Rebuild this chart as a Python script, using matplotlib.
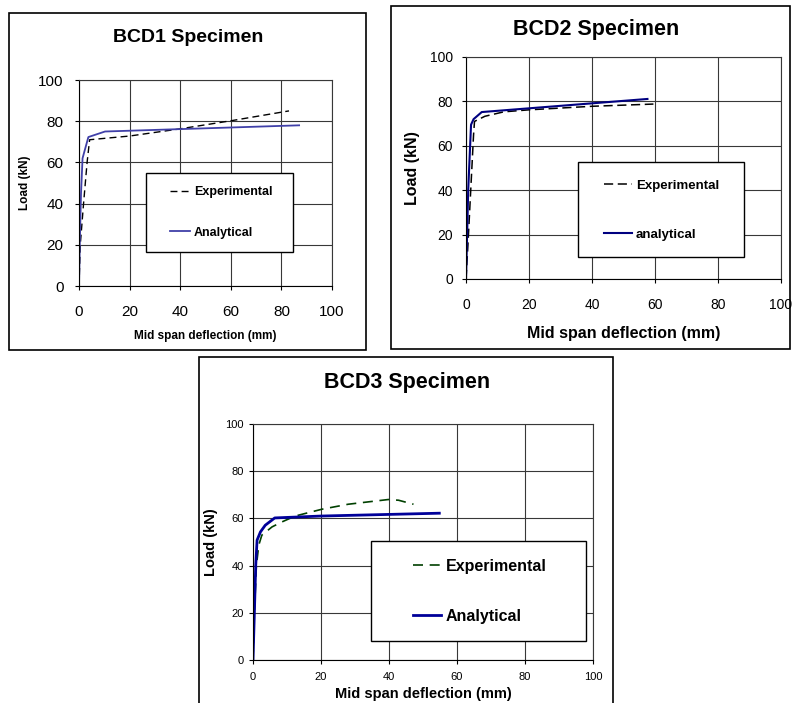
import matplotlib
matplotlib.use("Agg")
import matplotlib.pyplot as plt
from matplotlib.patches import Rectangle

plt.rcParams['font.family'] = ['Liberation Sans', 'DejaVu Sans']

W, H = 792, 703

# BCD1 specimen
bcd1_exp_x = [0, 0.5, 1.8, 3.2, 4.2, 20, 40, 60, 83]
bcd1_exp_y = [0, 20, 40, 60, 71, 72.8, 76.3, 80.2, 85]
bcd1_ana_x = [0, 0.3, 0.8, 1.4, 3.7, 10.3, 87]
bcd1_ana_y = [0, 20, 45, 62, 72.3, 75, 78]

# BCD2 specimen
bcd2_exp_x = [0, 0.6, 1.5, 2.4, 2.7, 6, 12, 20, 40, 59.5]
bcd2_exp_y = [0, 15, 40, 65, 71, 73.3, 75.3, 76.2, 77.8, 78.8]
bcd2_ana_x = [0, 0.7, 1.6, 2.4, 5, 57.6]
bcd2_ana_y = [0, 40, 69.5, 72, 75.2, 81.1]

# BCD3 specimen
bcd3_exp_x = [0, 0.4, 1.0, 1.7, 2.6, 5.6, 8.5, 12.4, 20.3, 28, 39.8, 42.8, 47.2]
bcd3_exp_y = [0, 20, 40, 48.7, 52.9, 56.4, 58.5, 61, 63.9, 66, 68, 67.7, 66]
bcd3_ana_x = [0, 0.4, 0.8, 1.2, 2.2, 3.6, 6.4, 20, 54.8]
bcd3_ana_y = [0, 20, 40, 50.8, 54.3, 57.1, 60.2, 61, 62.2]

ticks = [0, 20, 40, 60, 80, 100]


def px_axes(fig, left, top, right, bottom):
    return fig.add_axes([left / W, 1 - bottom / H, (right - left) / W, (bottom - top) / H])


def frame(fig, left, top, right, bottom):
    fig.patches.append(Rectangle((left / W, 1 - bottom / H), (right - left) / W,
                                 (bottom - top) / H, transform=fig.transFigure,
                                 fill=False, edgecolor='black', lw=1.2, zorder=0))


def setup(ax, tick_fs, label_fs, xpad, ypad, xlp, ylp):
    ax.set_xlim(0, 100)
    ax.set_ylim(0, 100)
    ax.set_xticks(ticks)
    ax.set_yticks(ticks)
    ax.grid(True, color='#383838', lw=0.8)
    ax.set_axisbelow(True)
    ax.tick_params(labelsize=tick_fs, length=3, width=0.8, direction='out')
    ax.tick_params(axis='x', pad=xpad)
    ax.tick_params(axis='y', pad=ypad)
    for s in ['top', 'right']:
        ax.spines[s].set_color('#383838')
        ax.spines[s].set_linewidth(0.8)
    ax.set_xlabel('Mid span deflection (mm)', fontsize=label_fs, fontweight='bold', labelpad=xlp)
    ax.set_ylabel('Load (kN)', fontsize=label_fs, fontweight='bold', labelpad=ylp)


def legend_box(ax, x0, y0, x1, y1, anchor, fs, hl, ls):
    ax.add_patch(Rectangle((x0, y0), x1 - x0, y1 - y0, transform=ax.transAxes,
                           facecolor='white', edgecolor='black', lw=1, zorder=4))
    leg = ax.legend(loc='center left', bbox_to_anchor=anchor, frameon=False,
                    borderpad=0, borderaxespad=0, handlelength=hl, handletextpad=0.3,
                    labelspacing=ls, prop={'weight': 'bold', 'size': fs})
    leg.set_zorder(5)


fig = plt.figure(figsize=(W / 100, H / 100), dpi=100)

frame(fig, 9, 13, 366, 350)
frame(fig, 391, 6, 790, 349)
frame(fig, 199, 357, 613, 710)

# --- BCD1 ---
ax1 = px_axes(fig, 79, 80, 332, 286)
setup(ax1, 11, 8.5, 10.5, 8, 8, 5)
ax1.plot(bcd1_exp_x, bcd1_exp_y, color='black', lw=1, ls=(0, (5, 3)), label='Experimental')
ax1.plot(bcd1_ana_x, bcd1_ana_y, color='#4040a8', lw=1.3, label='Analytical')
legend_box(ax1, 0.265, 0.165, 0.846, 0.549, (0.36, 0.357), 9, 1.6, 2.3)
fig.text(188 / W, 1 - 38 / H, 'BCD1 Specimen', ha='center', va='center',
         fontsize=14, fontweight='bold')

# --- BCD2 ---
ax2 = px_axes(fig, 466, 57, 781, 279)
setup(ax2, 10, 11.5, 11, 6.5, 10, 7)
ax2.plot(bcd2_exp_x, bcd2_exp_y, color='black', lw=1.1, ls=(0, (6, 3)), label='Experimental')
ax2.plot(bcd2_ana_x, bcd2_ana_y, color='#000080', lw=1.5, label='analytical')
legend_box(ax2, 0.356, 0.099, 0.883, 0.527, (0.438, 0.309), 9.5, 2.1, 2.8)
fig.text(596 / W, 1 - 29 / H, 'BCD2 Specimen', ha='center', va='center',
         fontsize=15.5, fontweight='bold')

# --- BCD3 ---
ax3 = px_axes(fig, 253, 424, 593, 660)
setup(ax3, 8, 10.5, 5.5, 3.5, 4, 5.5)
ax3.plot(bcd3_exp_x, bcd3_exp_y, color='#004000', lw=1.2, ls=(0, (6, 4)), label='Experimental')
ax3.plot(bcd3_ana_x, bcd3_ana_y, color='#000099', lw=2, label='Analytical')
legend_box(ax3, 0.347, 0.081, 0.979, 0.504, (0.47, 0.292), 11.5, 1.75, 2.2)
fig.text(407 / W, 1 - 382 / H, 'BCD3 Specimen', ha='center', va='center',
         fontsize=15.5, fontweight='bold')

fig.savefig('out.png', dpi=100)
